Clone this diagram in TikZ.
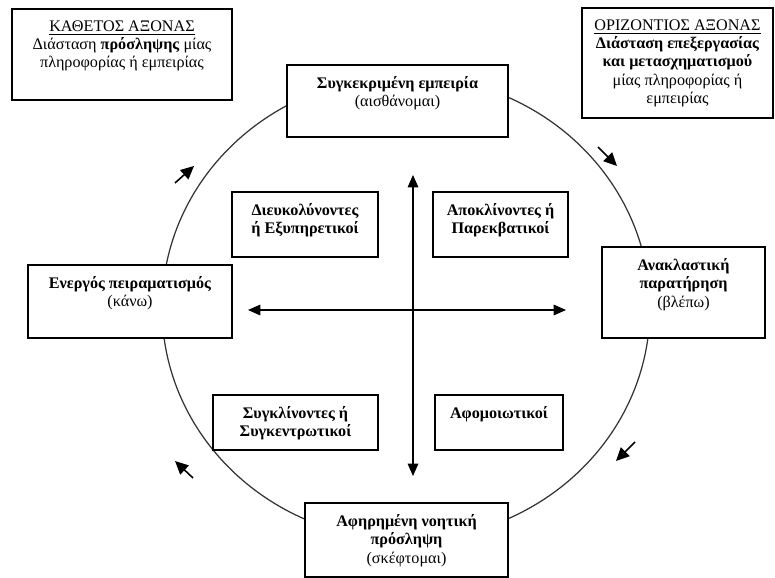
\documentclass[tikz,border=0pt]{standalone}
\usepackage{fontspec}
\setmainfont{Liberation Serif}
\usetikzlibrary{arrows.meta}

\begin{document}
\begin{tikzpicture}
   [x=0.02cm,y=-0.02cm,
    box/.style={draw=black,line width=1.1pt,fill=white,inner sep=0pt},
    lbl/.style={anchor=north,align=center,yshift=-5pt,inner sep=2pt,font=\fontsize{9.2}{10.4}\selectfont},
    axis/.style={line width=0.7pt,{Triangle[length=7pt,width=6pt]}-{Triangle[length=7pt,width=6pt]}},
    turn/.style={line width=0.9pt,-{Triangle[length=7.5pt,width=7pt]}}]
  \useasboundingbox (0,0) rectangle (775,578);

  % the cycle
  \draw[black!80,line width=0.7pt] (406,308) ellipse [x radius=4.88cm,y radius=4.64cm];

  % axes
  \coordinate (up) at (413,175);
  \coordinate (down) at (413,476);
  \coordinate (left) at (248,310);
  \coordinate (right) at (566,310);
  \draw[axis] (up) -- (down);
  \draw[axis] (left) -- (right);

  % corner boxes
  \node[box,minimum width=4.4cm,minimum height=1.82cm,
    label={[lbl]north:{\underline{ΚΑΘΕΤΟΣ ΑΞΟΝΑΣ}\\Διάσταση \textbf{πρόσληψης} μίας\\πληροφορίας ή εμπειρίας}}]
    (kath) at (122,54.5) {};
  \node[box,minimum width=3.82cm,minimum height=2.2cm,
    label={[lbl]north:{\underline{ΟΡΙΖΟΝΤΙΟΣ ΑΞΟΝΑΣ}\\\textbf{Διάσταση επεξεργασίας}\\\textbf{και μετασχηματισμού}\\μίας πληροφορίας ή\\εμπειρίας}}]
    (oriz) at (677.5,63) {};

  % stages
  \node[box,minimum width=4.42cm,minimum height=1.44cm,
    label={[lbl]north:{\textbf{Συγκεκριμένη εμπειρία}\\(αισθάνομαι)}}]
    (sygk) at (397.5,101) {};
  \node[box,minimum width=4.08cm,minimum height=1.46cm,
    label={[lbl]north:{\textbf{Ενεργός πειραματισμός}\\(κάνω)}}]
    (energ) at (130,301.5) {};
  \node[box,minimum width=3.26cm,minimum height=1.82cm,
    label={[lbl]north:{\textbf{Ανακλαστική}\\\textbf{παρατήρηση}\\(βλέπω)}}]
    (anakl) at (683.5,292.5) {};
  \node[box,minimum width=4.06cm,minimum height=1.48cm,
    label={[lbl]north:{\textbf{Αφηρημένη νοητική}\\\textbf{πρόσληψη}\\(σκέφτομαι)}}]
    (afir) at (406.5,540) {};

  % styles
  \node[box,minimum width=2.92cm,minimum height=1.3cm,
    label={[lbl]north:{\textbf{Διευκολύνοντες}\\\textbf{ή Εξυπηρετικοί}}}]
    (dieuk) at (305,224.5) {};
  \node[box,minimum width=2.7cm,minimum height=1.3cm,
    label={[lbl]north:{\textbf{Αποκλίνοντες ή}\\\textbf{Παρεκβατικοί}}}]
    (apokl) at (500.5,224.5) {};
  \node[box,minimum width=3.3cm,minimum height=1.1cm,
    label={[lbl]north:{\textbf{Συγκλίνοντες ή}\\\textbf{Συγκεντρωτικοί}}}]
    (sygkl) at (295.5,422.5) {};
  \node[box,minimum width=2.56cm,minimum height=1.1cm,
    label={[lbl]north:{\textbf{Αφομοιωτικοί}}}]
    (afom) at (499,422.5) {};

  % direction of the cycle
  \coordinate (t1) at (175,183);
  \coordinate (h1) at (194,166);
  \coordinate (t2) at (598,147);
  \coordinate (h2) at (617,166);
  \coordinate (t3) at (635,442);
  \coordinate (h3) at (616,461);
  \coordinate (t4) at (193,478);
  \coordinate (h4) at (175,461);

  \foreach \from/\to in {t1/h1, t2/h2, t3/h3, t4/h4}
    \draw[turn] (\from) -- (\to);

\end{tikzpicture}
\end{document}
